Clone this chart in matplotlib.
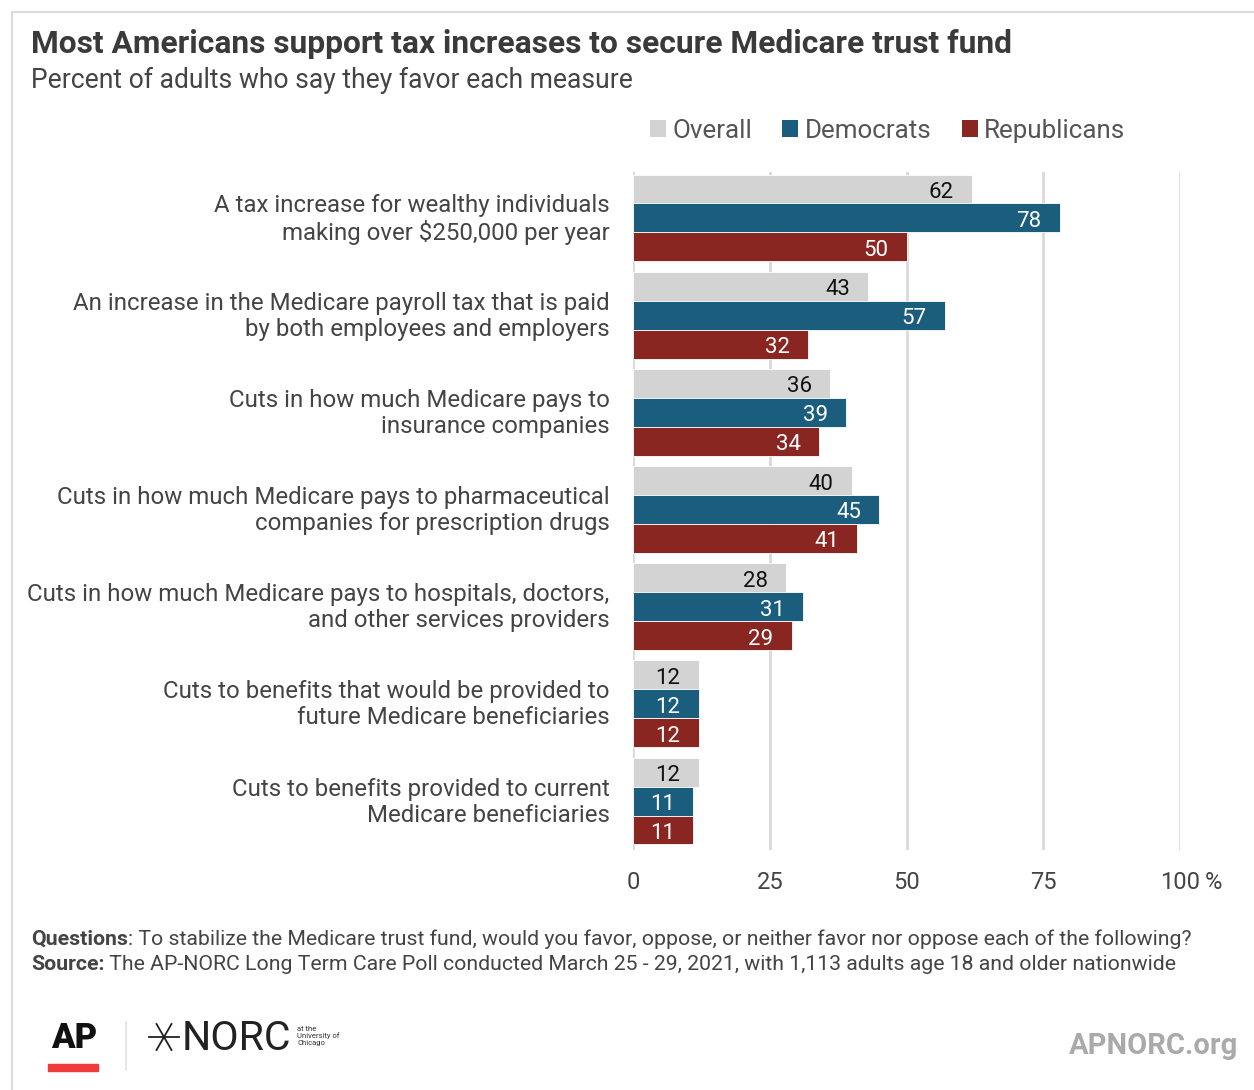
import matplotlib.pyplot as plt
from matplotlib.patches import Rectangle, Patch
from matplotlib.lines import Line2D
import numpy as np

plt.rcParams['font.family'] = ['Roboto', 'DejaVu Sans']

# Survey items and shares (percent who favor)
measures = [
    'A tax increase for wealthy individuals\nmaking over $250,000 per year',
    'An increase in the Medicare payroll tax that is paid\nby both employees and employers',
    'Cuts in how much Medicare pays to\ninsurance companies',
    'Cuts in how much Medicare pays to pharmaceutical\ncompanies for prescription drugs',
    'Cuts in how much Medicare pays to hospitals, doctors,\nand other services providers',
    'Cuts to benefits that would be provided to\nfuture Medicare beneficiaries',
    'Cuts to benefits provided to current\nMedicare beneficiaries',
]
overall = [62, 43, 36, 40, 28, 12, 12]
democrats = [78, 57, 39, 45, 31, 12, 11]
republicans = [50, 32, 34, 41, 29, 12, 11]

series = ['Overall', 'Democrats', 'Republicans']
colors = ['#d3d3d3', '#1a5d7c', '#8a2621']
label_colors = ['#111111', 'white', 'white']
x_ticks = [0, 25, 50, 75, 100]
x_ticklabels = ['0', '25', '50', '75', '100']

W, H = 1254, 1090
fig = plt.figure(figsize=(W / 100, H / 100), dpi=100)

def fx(px):
    return px / W

def fy(py):
    return 1 - py / H

# card border
fig.add_artist(Line2D([fx(12), fx(12)], [0, fy(12)], color='#dcdcdc', lw=1.5))
fig.add_artist(Line2D([fx(12), 1], [fy(12), fy(12)], color='#dcdcdc', lw=1.5))

ax = fig.add_axes([fx(633), fy(850), fx(1180) - fx(633), fy(172) - fy(850)])

y = np.arange(len(measures))
bar_h = 0.298
for i, (vals, c, lc) in enumerate(zip([overall, democrats, republicans], colors, label_colors)):
    pos = y + (i - 1) * bar_h
    bars = ax.barh(pos, vals, height=bar_h, color=c, edgecolor='white', linewidth=0.6, zorder=3)
    for b, v in zip(bars, vals):
        ax.annotate(str(v), (v, b.get_y() + b.get_height() / 2), xytext=(-13, -2.5),
                    textcoords='offset points', ha='right', va='center',
                    fontsize=16, color=lc, zorder=4)

ax.set_xlim(0, 100)
ax.set_ylim(6.504, -0.473)
ax.set_xticks(x_ticks)
ax.set_xticklabels(x_ticklabels, fontsize=17, color='#444444')
# unit sign trails the last tick value
ax.annotate('%', xy=(100, 0), xycoords=('data', 'axes fraction'), xytext=(18, -15),
            textcoords='offset points', ha='left', va='top', fontsize=17, color='#444444')
# category labels sit a touch above the group centre
ax.set_yticks(y - 0.03)
ax.set_yticklabels(measures, fontsize=17.3, color='#444444', linespacing=1.17)
ax.tick_params(length=0)
ax.tick_params(axis='x', pad=15)
ax.tick_params(axis='y', pad=17)
ax.grid(axis='x', color='#d9d9d9', lw=2, zorder=0)
for s in ax.spines.values():
    s.set_visible(False)

handles = [Patch(facecolor=c, edgecolor='none', label=s) for s, c in zip(series, colors)]
fig.legend(handles=handles, loc='center left', bbox_to_anchor=(fx(650), fy(131)),
           ncol=3, frameon=False, fontsize=18.7, labelcolor='#555555',
           handlelength=0.62, handleheight=0.62, handletextpad=0.25,
           columnspacing=1.15, borderaxespad=0, borderpad=0)

fig.text(fx(31), fy(44), 'Most Americans support tax increases to secure Medicare trust fund',
         fontsize=22.9, fontweight='bold', color='#3a3a3a', va='center')
fig.text(fx(31), fy(80), 'Percent of adults who say they favor each measure',
         fontsize=19.1, color='#444444', va='center')

# footer notes with bold lead-ins
renderer = fig.canvas.get_renderer()
notes = [
    ('Questions', ': To stabilize the Medicare trust fund, would you favor, oppose, or neither favor nor oppose each of the following?', 939),
    ('Source:', ' The AP-NORC Long Term Care Poll conducted March 25 - 29, 2021, with 1,113 adults age 18 and older nationwide', 965),
]
for lead, rest, py in notes:
    t = fig.text(fx(31), fy(py), lead, fontsize=15.3, fontweight='bold', color='#444444', va='center')
    bb = t.get_window_extent(renderer)
    fig.text(bb.x1 / W, fy(py), rest, fontsize=15.3, color='#444444', va='center')

# AP logo
fig.text(fx(74), fy(1038), 'AP', fontsize=25, fontweight='black', color='#111111',
         ha='center', va='center')
fig.add_artist(Rectangle((fx(48), fy(1071)), fx(50), 7 / H, color='#ef3b39'))
fig.add_artist(Line2D([fx(126), fx(126)], [fy(1070), fy(1022)], color='#e2e2e2', lw=1.2))

# NORC star and wordmark
cx, cy, r = 164, 1037, 15
for ang in (0, 60, 120):
    a = np.deg2rad(ang)
    fig.add_artist(Line2D([fx(cx - r * np.cos(a)), fx(cx + r * np.cos(a))],
                          [fy(cy - r * np.sin(a)), fy(cy + r * np.sin(a))],
                          color='#222222', lw=1.3))
fig.text(fx(182), fy(1038), 'NORC', fontsize=29.5, color='#222222', va='center')
fig.text(fx(297), fy(1036), 'at the\nUniversity of\nChicago', fontsize=5.5, color='#333333',
         va='center', linespacing=1.1)

fig.text(fx(1238), fy(1046), 'APNORC.org', fontsize=21, fontweight='bold', color='#aaaaaa',
         ha='right', va='center')

fig.savefig('out.png', dpi=100)
